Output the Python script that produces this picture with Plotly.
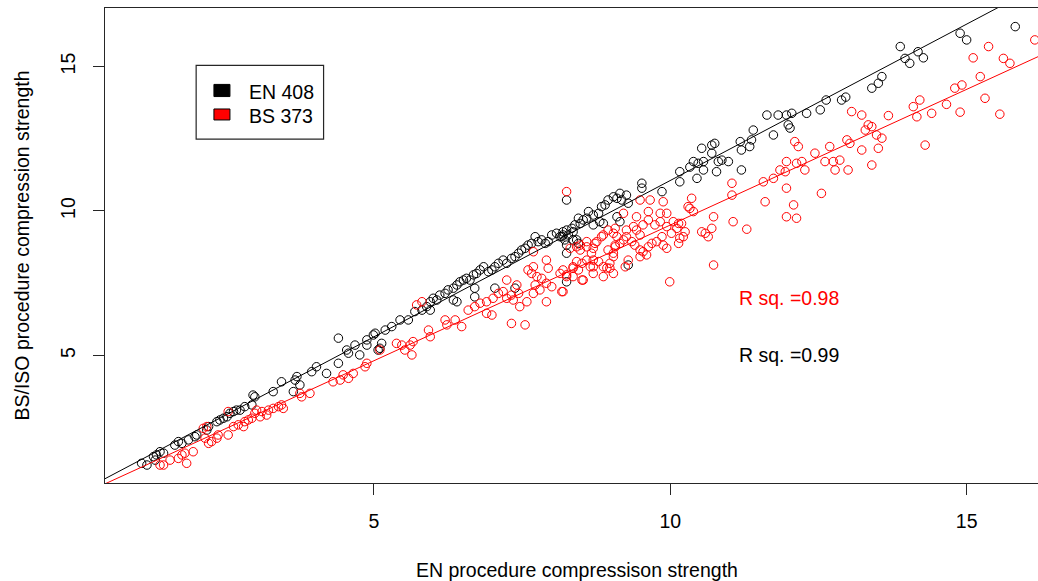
import plotly.graph_objects as go

# EN 408 test results: EN procedure (x) vs BS/ISO procedure (y) compression strength
en408_x = [1.08, 1.17, 1.28, 1.33, 1.39, 1.45, 1.31, 1.64, 1.70, 1.76, 1.87, 1.98, 2.01, 2.18, 2.21,
           2.35, 2.40, 2.46, 2.52, 2.57, 2.63, 2.68, 2.74, 2.82, 2.94, 2.99, 2.96, 3.30, 3.44, 3.67,
           3.70, 3.64, 3.95, 4.03, 4.20, 4.40, 4.54, 4.57, 4.68, 4.76, 4.88, 4.40, 4.99, 5.07, 4.88,
           5.02, 5.10, 5.13, 5.19, 5.30, 5.44, 5.58, 5.69, 5.81, 5.89, 5.95, 6.00, 6.06, 6.11, 6.20,
           6.25, 6.34, 6.40, 6.45, 6.51, 6.56, 6.62, 6.68, 6.73, 6.79, 6.85, 6.93, 6.99, 7.04, 7.10,
           7.18, 7.24, 7.32, 7.38, 7.44, 7.49, 7.55, 7.60, 7.66, 7.72, 7.77, 7.83, 7.89, 7.94, 8.00,
           8.08, 8.14, 8.19, 8.25, 8.25, 8.36, 8.42, 6.70, 6.70, 7.04, 7.38, 6.34, 6.40, 8.25, 5.95,
           8.25, 9.52, 9.52, 9.86, 10.16, 10.16, 10.45, 10.56, 10.78, 11.20, 9.04, 9.15, 9.26, 9.29, 9.18,
           9.10, 8.95, 8.90, 8.84, 8.79, 8.70, 8.62, 8.59, 8.53, 8.48, 8.45, 8.39, 8.34, 8.25, 8.19,
           8.17, 8.28, 8.22, 8.36, 8.45, 8.87, 9.10, 9.15, 9.29, 8.70, 8.81, 11.63, 11.82, 11.96, 12.05,
           12.30, 11.99, 12.02, 11.74, 11.40, 11.37, 11.34, 11.18, 11.20, 10.75, 10.70, 10.53, 10.70, 10.56, 10.39,
           10.47, 10.81, 10.87, 10.98, 10.33, 15.82, 14.89, 15.00, 13.88, 14.18, 14.27, 13.96, 14.04, 13.57, 13.51,
           13.40, 12.89, 3.75, 12.53, 12.63, 12.96]
en408_y = [1.27, 1.21, 1.50, 1.56, 1.67, 1.62, 1.38, 1.90, 2.02, 1.96, 2.08, 2.19, 2.25, 2.42, 2.54,
           2.71, 2.77, 2.83, 2.88, 3.00, 3.06, 3.11, 3.11, 3.23, 3.29, 3.57, 3.63, 3.75, 4.09, 4.15,
           4.27, 3.75, 4.44, 4.61, 4.38, 4.73, 5.19, 5.08, 5.36, 5.02, 5.36, 5.60, 5.71, 5.19, 5.54,
           5.77, 5.25, 5.42, 5.88, 6.00, 6.23, 6.23, 6.52, 6.57, 6.69, 6.86, 6.98, 6.92, 7.09, 7.15,
           7.27, 7.33, 7.44, 7.55, 7.61, 7.67, 7.61, 7.79, 7.84, 7.96, 8.07, 7.90, 7.96, 8.07, 8.19,
           8.30, 8.19, 8.36, 8.42, 8.54, 8.65, 8.71, 8.82, 8.88, 9.11, 8.94, 9.00, 8.88, 8.94, 9.17,
           9.23, 9.11, 9.17, 8.82, 8.54, 9.28, 9.00, 7.33, 7.03, 7.33, 7.33, 6.92, 6.86, 7.55, 6.57,
           10.38, 10.96, 10.79, 10.67, 11.01, 11.36, 11.13, 11.42, 11.36, 11.42, 10.49, 10.61, 10.55, 10.27, 10.38,
           10.44, 10.38, 10.21, 10.15, 9.92, 9.86, 9.98, 9.75, 9.69, 9.57, 9.75, 9.52, 9.40, 9.34, 9.28,
           9.11, 9.17, 9.00, 9.00, 8.88, 9.57, 9.80, 9.63, 8.13, 9.52, 9.63, 13.32, 13.32, 13.32, 13.38,
           13.38, 12.98, 12.87, 12.63, 12.80, 12.46, 12.23, 12.40, 12.11, 12.34, 12.28, 12.17, 12.00, 11.71, 11.71,
           11.65, 11.71, 11.76, 11.71, 11.52, 16.38, 16.15, 15.92, 15.69, 15.51, 15.30, 15.28, 15.11, 14.65, 14.42,
           14.25, 13.84, 3.98, 13.50, 13.84, 13.94]

# BS 373 test results
bs373_x = [1.39, 1.45, 1.70, 1.76, 1.81, 1.84, 1.95, 2.15, 2.21, 2.26, 2.35, 2.37, 2.54, 2.63, 2.71,
           2.80, 2.82, 2.88, 2.94, 2.99, 3.02, 3.08, 3.11, 3.19, 3.22, 3.30, 3.39, 3.44, 3.47, 3.75,
           3.78, 3.92, 4.31, 4.43, 4.48, 4.57, 4.65, 4.85, 4.88, 2.12, 2.18, 2.54, 1.56, 5.10, 5.38,
           5.47, 5.52, 5.61, 5.64, 5.66, 5.92, 5.95, 6.20, 6.23, 6.37, 6.48, 6.59, 6.70, 6.79, 6.90,
           6.99, 6.90, 7.01, 7.10, 7.18, 7.24, 7.32, 7.35, 7.44, 7.46, 7.58, 7.32, 7.55, 7.69, 7.72,
           7.80, 7.66, 7.60, 7.69, 7.75, 7.83, 7.91, 8.00, 7.94, 7.91, 8.17, 8.14, 8.25, 8.36, 8.42,
           8.51, 8.59, 8.70, 8.79, 8.87, 8.93, 9.04, 9.04, 8.95, 9.07, 9.10, 8.87, 8.73, 8.59, 8.48,
           8.36, 8.51, 7.91, 7.69, 5.81, 5.72, 7.24, 7.41, 8.25, 9.21, 9.49, 9.66, 9.88, 9.94, 9.63,
           9.83, 10.05, 10.14, 10.19, 10.30, 10.36, 10.39, 10.73, 10.70, 10.64, 10.53, 10.59, 11.04, 11.04, 11.06,
           11.29, 11.57, 11.74, 11.85, 11.96, 11.60, 12.08, 11.96, 12.13, 10.73, 9.99, 8.19, 8.31, 8.42, 8.67,
           8.70, 8.87, 8.98, 9.04, 9.07, 9.15, 9.21, 9.26, 9.35, 9.40, 9.49, 9.54, 9.63, 9.69, 9.77,
           9.86, 9.88, 9.94, 10.02, 10.11, 10.16, 10.14, 10.22, 10.25, 8.95, 9.04, 9.07, 9.26, 9.38, 9.43,
           9.54, 9.74, 9.49, 8.36, 8.45, 8.53, 8.65, 8.70, 8.98, 8.19, 8.25, 8.84, 8.76, 8.48, 8.59,
           8.70, 9.43, 9.63, 9.83, 9.94, 9.24, 9.49, 9.60, 9.29, 13.06, 13.23, 13.34, 13.40, 13.29, 13.48,
           13.57, 12.98, 13.03, 13.23, 13.51, 13.40, 13.00, 12.69, 12.44, 12.61, 12.75, 12.86, 12.78, 12.10, 12.16,
           11.96, 12.13, 12.22, 12.27, 11.94, 10.33, 12.55, 16.15, 15.37, 15.11, 15.62, 15.73, 15.23, 14.92, 14.80,
           15.31, 14.21, 14.10, 14.66, 14.89, 15.56, 14.41, 14.16, 13.68, 14.30]
bs373_y = [1.21, 1.21, 1.44, 1.56, 1.62, 1.27, 1.67, 2.14, 1.96, 2.02, 2.14, 2.25, 2.25, 2.54, 2.60,
           2.54, 2.71, 2.77, 2.83, 3.00, 3.11, 2.88, 3.06, 2.94, 3.11, 3.17, 3.23, 3.29, 3.17, 3.69,
           3.57, 3.69, 4.09, 4.15, 4.33, 4.21, 4.38, 4.61, 4.73, 2.48, 2.54, 3.06, 1.38, 5.19, 5.42,
           5.36, 5.19, 5.36, 5.02, 5.48, 5.88, 5.65, 6.23, 6.06, 6.23, 6.00, 6.57, 6.69, 6.81, 6.46,
           6.40, 6.86, 6.98, 7.15, 7.21, 6.98, 7.09, 6.92, 7.15, 6.69, 6.86, 6.11, 6.06, 7.15, 7.44,
           7.27, 7.84, 7.96, 8.07, 7.73, 7.67, 7.50, 7.38, 8.02, 6.86, 7.21, 7.84, 7.79, 8.07, 8.25,
           8.19, 8.30, 8.07, 8.25, 7.73, 8.03, 7.84, 8.42, 8.65, 8.82, 9.11, 9.17, 8.88, 8.76, 8.65,
           7.73, 7.61, 8.30, 8.59, 6.86, 6.75, 7.61, 7.44, 10.67, 9.92, 10.38, 10.38, 10.32, 9.92, 9.69,
           9.63, 9.63, 9.57, 9.57, 10.15, 10.44, 9.98, 9.80, 9.40, 9.11, 9.28, 9.23, 10.96, 10.55, 9.63,
           9.37, 11.01, 11.13, 11.42, 10.79, 10.32, 10.21, 9.80, 9.75, 8.13, 7.55, 7.21, 8.71, 8.76, 8.54,
           8.30, 8.07, 8.19, 8.54, 8.76, 8.88, 9.00, 9.11, 8.94, 8.82, 8.65, 8.59, 8.76, 8.88, 8.94,
           9.11, 8.82, 8.71, 9.23, 9.40, 9.06, 8.88, 9.11, 9.28, 9.34, 9.23, 9.40, 9.34, 9.46, 9.34,
           9.52, 9.52, 9.17, 8.02, 7.96, 7.61, 8.07, 7.84, 8.02, 7.96, 7.73, 9.11, 8.94, 8.82, 8.94,
           8.71, 9.80, 9.98, 9.92, 9.46, 8.07, 8.42, 8.48, 8.30, 13.44, 13.32, 12.98, 12.92, 12.80, 12.63,
           12.52, 12.46, 12.34, 12.11, 12.17, 11.59, 11.42, 12.23, 12.00, 11.71, 11.71, 11.76, 11.42, 12.40, 12.23,
           11.71, 11.65, 11.71, 11.42, 11.36, 10.09, 10.61, 15.92, 15.69, 15.30, 15.28, 15.11, 14.65, 14.36, 14.25,
           13.90, 13.84, 13.61, 13.69, 13.42, 13.35, 13.38, 13.26, 13.30, 12.28]

# Fitted regression lines (intercept, slope) and their R squared
en408_fit = (0.236, 1.082)
bs373_fit = (0.124, 0.939)
en408_r2 = 0.99
bs373_r2 = 0.98

x_range = [0.462, 16.204]
y_range = [0.588, 17.024]

FONT = "Liberation Sans, Arial, sans-serif"
FS = 19.5
RED = "#FF0000"
FRAME = "#262626"

fig = go.Figure()

for xs, ys, col in [(en408_x, en408_y, "black"), (bs373_x, bs373_y, RED)]:
    fig.add_trace(go.Scatter(
        x=xs, y=ys, mode="markers",
        marker=dict(symbol="circle-open", size=8.5, color=col, line=dict(width=1, color=col)),
        showlegend=False, hoverinfo="skip"))

for (a, b), col in [(en408_fit, "black"), (bs373_fit, RED)]:
    fig.add_trace(go.Scatter(
        x=x_range, y=[a + b * x_range[0], a + b * x_range[1]], mode="lines",
        line=dict(color=col, width=1), showlegend=False, hoverinfo="skip"))

# R squared labels
fig.add_annotation(x=12, y=7, xref="x", yref="y", text=f"R sq. ={bs373_r2:.2f}",
                   showarrow=False, font=dict(family=FONT, size=FS, color=RED))
fig.add_annotation(x=12, y=5, xref="x", yref="y", text=f"R sq. ={en408_r2:.2f}",
                   showarrow=False, font=dict(family=FONT, size=FS, color="black"))

# legend box with filled keys
fig.add_shape(type="rect", xref="x", yref="y", x0=2.0, x1=4.15, y0=12.49, y1=15.04,
              line=dict(color=FRAME, width=1.2), fillcolor="white")
for (y0, y1, col, label, ty) in [(13.96, 14.38, "black", "EN 408", 14.13),
                                 (13.15, 13.53, RED, "BS 373", 13.30)]:
    fig.add_shape(type="rect", xref="x", yref="y", x0=2.30, x1=2.57, y0=y0, y1=y1,
                  line=dict(color="black", width=1), fillcolor=col)
    fig.add_annotation(x=2.85, y=ty, xref="x", yref="y", text=label, showarrow=False,
                       xanchor="left", font=dict(family=FONT, size=FS, color="black"))

# axis titles
fig.add_annotation(x=0.506, y=-0.184, xref="paper", yref="paper", yanchor="middle",
                   text="EN procedure compressison strength", showarrow=False,
                   font=dict(family=FONT, size=FS, color="black"))
fig.add_annotation(x=-0.09, y=0.5, xref="paper", yref="paper", xanchor="center",
                   text="BS/ISO procedure compression strength", showarrow=False, textangle=-90,
                   font=dict(family=FONT, size=FS, color="black"))

axis_common = dict(showgrid=False, zeroline=False, showline=True, linecolor=FRAME, linewidth=1.2,
                   ticks="outside", ticklen=11, tickwidth=1.2, tickcolor=FRAME,
                   tickfont=dict(family=FONT, size=FS, color="black"))
fig.update_xaxes(range=x_range, tickvals=[5, 10, 15], mirror=True, ticklabelstandoff=9, **axis_common)
fig.update_yaxes(range=y_range, tickvals=[5, 10, 15], tickangle=-90, ticklabelstandoff=10,
                 **axis_common)

fig.update_layout(width=1038, height=581, margin=dict(l=105, r=0, t=8, b=98),
                  plot_bgcolor="white", paper_bgcolor="white")

fig.write_html("out.html")
